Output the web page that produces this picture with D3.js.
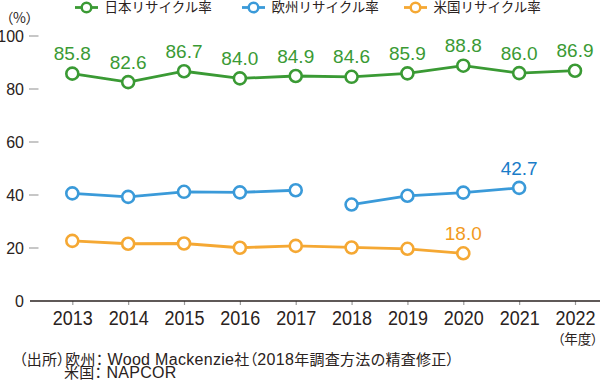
<!DOCTYPE html>
<html>
<head>
<meta charset="utf-8">
<script src="https://cdn.jsdelivr.net/npm/d3@7"></script>
<style>
  body { margin: 0; background: #fff; }
  svg { display: block; }
  .jp { font-feature-settings: "palt" 1; }
</style>
</head>
<body>
<script>
// data
let years = [2013, 2014, 2015, 2016, 2017, 2018, 2019, 2020, 2021, 2022];
let japan = [85.8, 82.6, 86.7, 84.0, 84.9, 84.6, 85.9, 88.8, 86.0, 86.9];
let europe = [40.6, 39.3, 41.2, 41.0, 41.8, 36.4, 39.7, 40.9, 42.7, null];
// 2017 -> 2018 is not joined (method changed in 2018)
let europeBreak = 2018;
let usa = [22.7, 21.6, 21.7, 20.1, 20.8, 20.2, 19.7, 18.0, null, null];
let yTicks = [0, 20, 40, 60, 80, 100];
let seriesNames = ["日本リサイクル率", "欧州リサイクル率", "米国リサイクル率"];
let colors = ["#3a9a34", "#3a9ad9", "#f5a833"];
let labelColors = ["#3a9a34", "#1a7cc8", "#f29a1e"];
// source note, split into [text, isLatin] runs
let note1 = [["（出所）欧州：", false], ["Wood Mackenzie", true], ["社（", false], ["2018", true], ["年調査方法の精査修正）", false]];
let note2 = [["米国：", false], ["NAPCOR", true]];

let width = 600, height = 382;
let jpFont = "'Noto Sans CJK JP', sans-serif";
let latinFont = "'Liberation Sans', Arial, sans-serif";
let textColor = "#2a2220";

let svg = d3.select("body").append("svg")
  .attr("width", width)
  .attr("height", height);

let xScale = d3.scaleLinear()
  .domain([2013, 2022])
  .range([72.3, 575]);
let yScale = d3.scaleLinear()
  .domain([0, 100])
  .range([301, 36]);

// y axis ticks
let yAxisG = svg.append("g");
yAxisG.selectAll("line").data(yTicks.filter(d => d > 0)).join("line")
  .attr("x1", 29).attr("x2", 38.5)
  .attr("y1", d => yScale(d)).attr("y2", d => yScale(d))
  .attr("stroke", "#b5b5b5")
  .attr("stroke-width", 1.5);
yAxisG.selectAll("text").data(yTicks).join("text")
  .attr("x", 24)
  .attr("y", d => yScale(d))
  .attr("dy", "0.36em")
  .attr("text-anchor", "end")
  .attr("font-family", latinFont)
  .attr("font-size", 16)
  .attr("fill", textColor)
  .text(d => d);

// x axis
let xAxis = d3.axisBottom(xScale)
  .tickValues(years)
  .tickFormat(d => d)
  .tickSize(4)
  .tickPadding(6);
let xAxisG = svg.append("g")
  .attr("transform", `translate(0, ${yScale(0)})`)
  .call(xAxis);
xAxisG.select(".domain").remove();
xAxisG.selectAll(".tick line").attr("stroke", "#9a9a9a").attr("stroke-width", 1.2);
xAxisG.selectAll(".tick text")
  .attr("font-family", latinFont)
  .attr("font-size", 19.5)
  .attr("textLength", 40)
  .attr("lengthAdjust", "spacingAndGlyphs")
  .attr("fill", textColor);
svg.append("line")
  .attr("x1", 30).attr("x2", width)
  .attr("y1", yScale(0)).attr("y2", yScale(0))
  .attr("stroke", textColor)
  .attr("stroke-width", 1.6);

svg.append("text")
  .attr("class", "jp")
  .attr("x", 598).attr("y", 344)
  .attr("text-anchor", "end")
  .attr("font-family", jpFont)
  .attr("font-size", 13.5)
  .attr("fill", textColor)
  .text("（年度）");

svg.append("text")
  .attr("class", "jp")
  .attr("x", 6).attr("y", 23)
  .attr("font-family", jpFont)
  .attr("font-size", 14)
  .attr("fill", textColor)
  .text("（%）");

// lines
let allSeries = [japan, europe, usa];
let line = d3.line()
  .defined(d => d.v != null)
  .x(d => xScale(d.year))
  .y(d => yScale(d.v));

allSeries.forEach((vals, i) => {
  let pts = years.map((y, j) => ({ year: y, v: vals[j] }));
  let segs = [pts];
  if (i === 1) {
    segs = [pts.filter(d => d.year < europeBreak), pts.filter(d => d.year >= europeBreak)];
  }
  let g = svg.append("g");
  segs.forEach(s => {
    g.append("path")
      .attr("d", line(s))
      .attr("fill", "none")
      .attr("stroke", colors[i])
      .attr("stroke-width", 2.8);
  });
  g.selectAll("circle").data(pts.filter(d => d.v != null)).join("circle")
    .attr("cx", d => xScale(d.year))
    .attr("cy", d => yScale(d.v))
    .attr("r", 6)
    .attr("fill", "#fff")
    .attr("stroke", colors[i])
    .attr("stroke-width", 2.6);
});

// value labels
svg.append("g").selectAll("text").data(years.map((y, j) => ({ year: y, v: japan[j] }))).join("text")
  .attr("x", d => xScale(d.year))
  .attr("y", d => yScale(d.v) - 13.5)
  .attr("text-anchor", "middle")
  .attr("font-family", latinFont)
  .attr("font-size", 19)
  .attr("fill", labelColors[0])
  .text(d => d.v.toFixed(1));
svg.append("text")
  .attr("x", xScale(2021))
  .attr("y", yScale(europe[8]) - 13)
  .attr("text-anchor", "middle")
  .attr("font-family", latinFont)
  .attr("font-size", 19)
  .attr("fill", labelColors[1])
  .text(europe[8].toFixed(1));
svg.append("text")
  .attr("x", xScale(2020))
  .attr("y", yScale(usa[7]) - 13)
  .attr("text-anchor", "middle")
  .attr("font-family", latinFont)
  .attr("font-size", 19)
  .attr("fill", labelColors[2])
  .text(usa[7].toFixed(1));

// legend
let legendX = [75, 242, 404];
let legend = svg.append("g").selectAll("g").data(seriesNames).join("g")
  .attr("transform", (d, i) => `translate(${legendX[i]}, 7.5)`);
legend.append("line")
  .attr("x1", 0).attr("x2", 23)
  .attr("stroke", (d, i) => colors[i])
  .attr("stroke-width", 2.8);
legend.append("circle")
  .attr("cx", 11.5).attr("r", 4.8)
  .attr("fill", "#fff")
  .attr("stroke", (d, i) => colors[i])
  .attr("stroke-width", 2.5);
legend.append("text")
  .attr("x", 29.5)
  .attr("dy", "0.36em")
  .attr("font-family", jpFont)
  .attr("font-size", 13.5)
  .attr("fill", textColor)
  .text(d => d);

// source note
function addNote(runs, x, y) {
  let t = svg.append("text")
    .attr("class", "jp")
    .attr("x", x).attr("y", y)
    .attr("letter-spacing", 0.3)
    .attr("fill", textColor);
  t.selectAll("tspan").data(runs).join("tspan")
    .attr("font-family", d => d[1] ? latinFont : jpFont)
    .attr("font-size", d => d[1] ? 16 : 15)
    .attr("dx", (d, i) => (i === 1 ? 4 : 0))
    .text(d => d[0]);
}
addNote(note1, 19, 364.5);
addNote(note2, 64, 378);
</script>
</body>
</html>
